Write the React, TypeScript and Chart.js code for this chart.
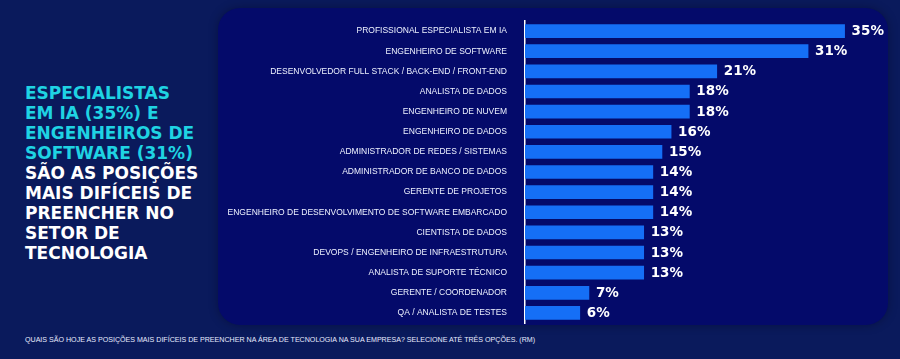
import React, { useEffect, useRef } from "react";
import { Chart, registerables } from "chart.js";

Chart.register(...registerables);

const categories = [
  "PROFISSIONAL ESPECIALISTA EM IA",
  "ENGENHEIRO DE SOFTWARE",
  "DESENVOLVEDOR FULL STACK / BACK-END / FRONT-END",
  "ANALISTA DE DADOS",
  "ENGENHEIRO DE NUVEM",
  "ENGENHEIRO DE DADOS",
  "ADMINISTRADOR DE REDES / SISTEMAS",
  "ADMINISTRADOR DE BANCO DE DADOS",
  "GERENTE DE PROJETOS",
  "ENGENHEIRO DE DESENVOLVIMENTO DE SOFTWARE EMBARCADO",
  "CIENTISTA DE DADOS",
  "DEVOPS / ENGENHEIRO DE INFRAESTRUTURA",
  "ANALISTA DE SUPORTE TÉCNICO",
  "GERENTE / COORDENADOR",
  "QA / ANALISTA DE TESTES",
];

const values = [35, 31, 21, 18, 18, 16, 15, 14, 14, 14, 13, 13, 13, 7, 6];

const headlineHighlight = ["ESPECIALISTAS", "EM IA (35%) E", "ENGENHEIROS DE", "SOFTWARE (31%)"];
const headlineRest = ["SÃO AS POSIÇÕES", "MAIS DIFÍCEIS DE", "PREENCHER NO", "SETOR DE", "TECNOLOGIA"];
const footnote =
  "QUAIS SÃO HOJE AS POSIÇÕES MAIS DIFÍCEIS DE PREENCHER NA ÁREA DE TECNOLOGIA NA SUA EMPRESA? SELECIONE ATÉ TRÊS OPÇÕES. (RM)";

const valueLabelPlugin = {
  id: "valueLabels",
  afterDatasetsDraw(chart: any) {
    const ctx = chart.ctx;
    const meta = chart.getDatasetMeta(0);
    ctx.save();
    ctx.fillStyle = "#ffffff";
    ctx.font = "bold 13.5px 'DejaVu Sans'";
    ctx.textAlign = "left";
    ctx.textBaseline = "middle";
    meta.data.forEach((bar: any, i: number) => {
      ctx.fillText(`${values[i]}%`, bar.x + 7, bar.y + 0.5);
    });
    ctx.restore();
  },
};

export default function App() {
  const canvasRef = useRef<HTMLCanvasElement | null>(null);

  useEffect(() => {
    if (!canvasRef.current) return;
    const chart = new Chart(canvasRef.current, {
      type: "bar",
      data: {
        labels: categories,
        datasets: [
          {
            data: values,
            backgroundColor: "#156ff6",
            borderWidth: 0,
            barThickness: 13,
          },
        ],
      },
      options: {
        indexAxis: "y",
        animation: false,
        responsive: false,
        maintainAspectRatio: false,
        layout: { padding: { left: 0, right: 28, top: 21, bottom: 36 } },
        plugins: { legend: { display: false }, tooltip: { enabled: false } },
        scales: {
          x: { display: false, min: 0, max: 38 },
          y: {
            grid: { display: false },
            border: { display: true, color: "#ffffff", width: 1.5 },
            ticks: {
              color: "#eef2ff",
              padding: 10,
              font: { family: "'Liberation Sans'", size: 8.5 },
            },
            afterFit: (scale: any) => {
              scale.width = 525;
            },
          },
        },
      },
      plugins: [valueLabelPlugin],
    });
    return () => chart.destroy();
  }, []);

  return (
    <div
      style={{
        position: "fixed",
        left: 0,
        top: 0,
        width: 900,
        height: 359,
        background: "#0a1a5c",
        overflow: "hidden",
      }}
    >
      <div
        style={{
          position: "absolute",
          left: 218,
          top: 8,
          width: 670,
          height: 317,
          borderRadius: 22,
          background: "#040a6a",
          boxShadow: "0 0 10px rgba(0,0,20,0.35)",
        }}
      />
      <div
        style={{
          position: "absolute",
          left: 25,
          top: 83,
          fontFamily: "'DejaVu Sans'",
          fontWeight: "bold",
          fontSize: 17,
          lineHeight: "20px",
          whiteSpace: "nowrap",
        }}
      >
        {headlineHighlight.map((t, i) => (
          <div key={"h" + i} style={{ color: "#1fd3e3" }}>
            {t}
          </div>
        ))}
        {headlineRest.map((t, i) => (
          <div key={"r" + i} style={{ color: "#ffffff" }}>
            {t}
          </div>
        ))}
      </div>
      <div
        style={{
          position: "absolute",
          left: 25,
          top: 336,
          fontFamily: "'Liberation Sans'",
          fontSize: 7.1,
          lineHeight: "8px",
          color: "#e8ecff",
          whiteSpace: "nowrap",
        }}
      >
        {footnote}
      </div>
      <canvas
        ref={canvasRef}
        width={900}
        height={359}
        style={{ position: "absolute", left: 0, top: 0, width: 900, height: 359 }}
      />
    </div>
  );
}
